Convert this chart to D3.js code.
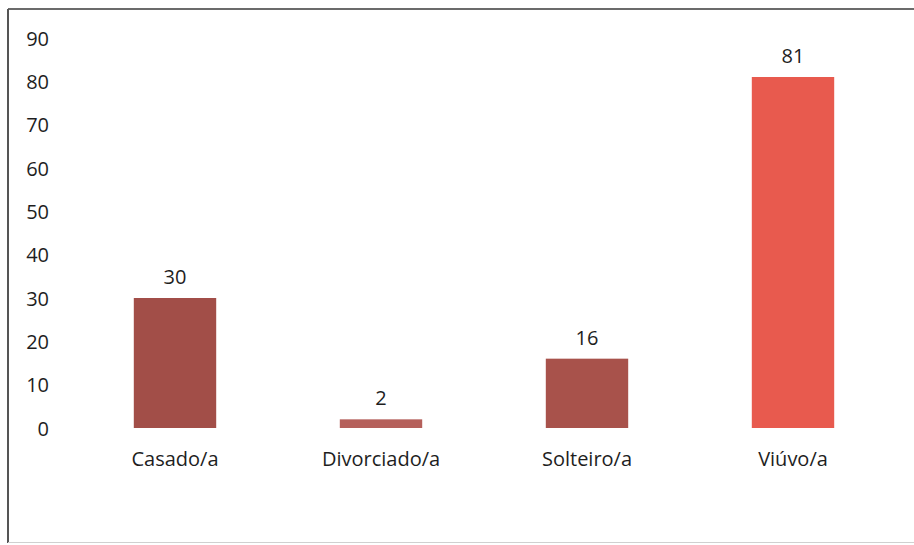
<!DOCTYPE html>
<html>
<head>
<meta charset="utf-8">
<script src="https://cdn.jsdelivr.net/npm/d3@7"></script>
<style>
  html, body { margin: 0; padding: 0; background: #ffffff; }
  svg { display: block; }
  text { font-family: "Open Sans", "Noto Sans", sans-serif; fill: #1e1e1e; }
</style>
</head>
<body>
<svg id="chart" width="914" height="545"></svg>
<script>
// Estado civil: contagem por categoria
const categories = ["Casado/a", "Divorciado/a", "Solteiro/a", "Viúvo/a"];
const values = [30, 2, 16, 81];
const barColors = ["#a24e48", "#b5605b", "#a8524b", "#e85a4e"];
const yTicks = [0, 10, 20, 30, 40, 50, 60, 70, 80, 90];

const fontSize = 20;
const svg = d3.select("#chart");

// chart frame
svg.append("line").attr("x1", 8).attr("x2", 914).attr("y1", 9).attr("y2", 9)
  .attr("stroke", "#6b6b6b").attr("stroke-width", 2);
svg.append("line").attr("x1", 8).attr("x2", 8).attr("y1", 9).attr("y2", 543)
  .attr("stroke", "#555").attr("stroke-width", 2);
svg.append("line").attr("x1", 8).attr("x2", 914).attr("y1", 542.5).attr("y2", 542.5)
  .attr("stroke", "#d0d0d0").attr("stroke-width", 1);

const x = d3.scaleBand()
  .domain(categories)
  .range([72, 896])
  .paddingInner(0.6)
  .paddingOuter(0.3);

const y = d3.scaleLinear().domain([0, 90]).range([428, 38]);

// y axis: labels only, no line or ticks
const yAxis = svg.append("g")
  .attr("transform", "translate(49,0)")
  .call(d3.axisLeft(y).tickValues(yTicks).tickSize(0).tickPadding(0));
yAxis.select(".domain").remove();
yAxis.selectAll("text")
  .attr("font-size", fontSize)
  .attr("dy", "0.36em")
  .style("font-family", "'Open Sans', sans-serif")
  .attr("fill", "#1e1e1e");

// x axis: category labels only
const xAxis = svg.append("g")
  .attr("transform", "translate(0,428)")
  .call(d3.axisBottom(x).tickSize(0).tickPadding(0));
xAxis.select(".domain").remove();
xAxis.selectAll("text")
  .attr("font-size", fontSize)
  .attr("y", 38)
  .attr("dy", 0)
  .style("font-family", "'Open Sans', sans-serif")
  .attr("fill", "#1e1e1e");

// bars
svg.append("g").selectAll("rect")
  .data(values)
  .join("rect")
  .attr("x", (d, i) => x(categories[i]))
  .attr("width", x.bandwidth())
  .attr("y", d => y(d))
  .attr("height", d => y(0) - y(d))
  .attr("fill", (d, i) => barColors[i]);

// value labels
svg.append("g").selectAll("text")
  .data(values)
  .join("text")
  .attr("x", (d, i) => x(categories[i]) + x.bandwidth() / 2)
  .attr("y", d => y(d) - 14)
  .attr("text-anchor", "middle")
  .attr("font-size", fontSize)
  .text(d => d);
</script>
</body>
</html>
